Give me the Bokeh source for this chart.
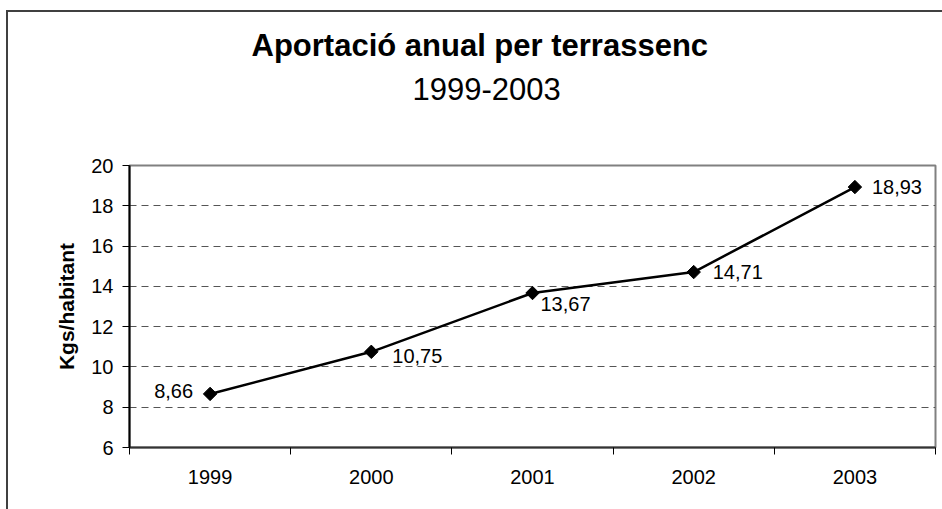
from bokeh.plotting import figure
from bokeh.models import FixedTicker, Range1d, ColumnDataSource, Title
from bokeh.core.properties import value
from bokeh.embed import file_html
from bokeh.resources import INLINE
import math

# ---- data ----
years = [1999, 2000, 2001, 2002, 2003]
year_labels = ["1999", "2000", "2001", "2002", "2003"]
kgs = [8.66, 10.75, 13.67, 14.71, 18.93]
value_labels = ["8,66", "10,75", "13,67", "14,71", "18,93"]
y_ticks = [6, 8, 10, 12, 14, 16, 18, 20]
grid_ticks = [8, 10, 12, 14, 16, 18]

title_text = "Aportació anual per terrassenc"
subtitle_text = "1999-2003"
y_title = "Kgs/habitant"

# label placement styling
lab_align = ["right", "left", "left", "left", "left"]
lab_dx = [-17, 21, 8, 19, 17]
lab_dy = [-3, 4, 11, 0, 0]

FONT = "Liberation Sans"

p = figure(width=942, height=509, output_backend="svg", toolbar_location=None,
           x_range=Range1d(1998.5, 2003.5), y_range=Range1d(6, 20),
           min_border_left=129, min_border_right=7, min_border_top=165,
           min_border_bottom=62)
p.background_fill_color = "white"
p.border_fill_color = None
p.styles = {"background-color": "white",
            "box-shadow": "inset 6px 10px 0 0 white, inset 8px 12px 0 0 #404040"}
p.outline_line_color = "#808080"
p.outline_line_width = 2

# x axis
p.xaxis.ticker = FixedTicker(ticks=years, minor_ticks=[y - 0.5 for y in years] + [years[-1] + 0.5])
p.xaxis.major_label_overrides = {y: l for y, l in zip(years, year_labels)}
p.xaxis.major_tick_out = 0
p.xaxis.major_tick_in = 0
p.xaxis.minor_tick_out = 7
p.xaxis.minor_tick_in = 0
p.xaxis.minor_tick_line_color = "black"
p.xaxis.axis_line_color = "#333333"
p.xaxis.axis_line_width = 2
p.xaxis.major_label_standoff = 15
p.xaxis.major_label_text_font = FONT
p.xaxis.major_label_text_font_size = "20px"
p.xaxis.major_label_text_color = "black"

# y axis
p.yaxis.ticker = FixedTicker(ticks=y_ticks, minor_ticks=[])
p.yaxis.major_tick_out = 7
p.yaxis.major_tick_in = 0
p.yaxis.major_tick_line_color = "black"
p.yaxis.axis_line_color = "black"
p.yaxis.axis_line_width = 2
p.yaxis.major_label_standoff = 9
p.yaxis.major_label_text_font = FONT
p.yaxis.major_label_text_font_size = "20px"
p.yaxis.major_label_text_color = "black"
p.yaxis.axis_label = y_title
p.yaxis.axis_label_text_font = FONT
p.yaxis.axis_label_text_font_size = "21px"
p.yaxis.axis_label_text_font_style = "bold"
p.yaxis.axis_label_text_color = "black"
p.yaxis.axis_label_standoff = 10

# grids
p.xgrid.grid_line_color = None
p.ygrid.ticker = FixedTicker(ticks=grid_ticks)
p.ygrid.grid_line_color = "#555555"
p.ygrid.grid_line_width = 1
p.ygrid.grid_line_dash = "7 5"

src = ColumnDataSource(dict(x=years, y=kgs, lab=value_labels, al=lab_align, dx=lab_dx, dy=lab_dy))
p.line("x", "y", source=src, line_color="black", line_width=2.5)
p.scatter("x", "y", source=src, marker="square", size=9.5, angle=math.pi / 4,
          fill_color="black", line_color="black")
p.text("x", "y", text="lab", source=src, text_align="al", x_offset="dx", y_offset="dy",
       text_baseline="middle", text_font=value(FONT), text_font_size="20px", text_color="black")

# titles, stacked upward from the plot area: spacer, subtitle, title
p.add_layout(Title(text=" ", text_font_size="1px", standoff=63), "above")
p.add_layout(Title(text=subtitle_text, align="left", offset=283, text_font=FONT,
                   text_font_size="31px", text_font_style="normal", text_color="black",
                   standoff=0), "above")
p.add_layout(Title(text=title_text, align="left", offset=122, text_font=FONT,
                   text_font_size="31px", text_font_style="bold", text_color="black",
                   standoff=26), "above")

open("out.html", "w").write(file_html(p, INLINE))
